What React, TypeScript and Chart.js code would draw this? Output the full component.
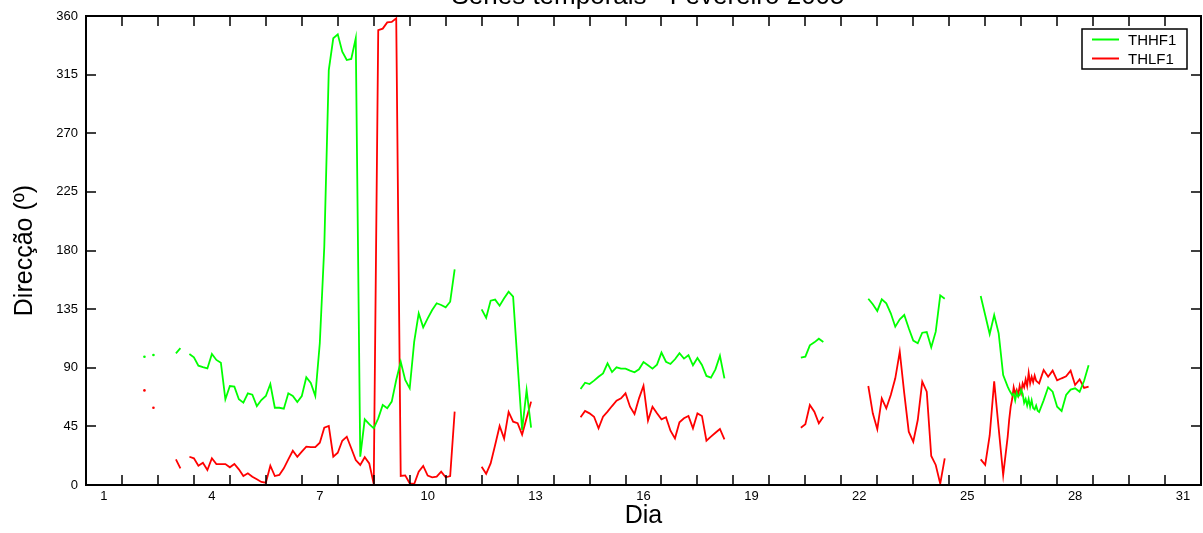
import React, { useEffect, useRef } from "react";
import { Chart, registerables } from "chart.js";

Chart.register(...registerables);

// ---------- DATA ----------
// 3-hourly samples: row = day d, columns d+0.000, d+0.125, ... d+0.875
const GRID_START = 2;
const GRID_STEP = 0.125;
// hourly samples between 26.125 and 27.0 (inclusive)
const HOURLY_START = 26.125;
const HOURLY_STEP = 1 / 24;
const HOURLY_END = 27.0;

const thhf1ThreeHourly: (number | null)[] = [
  /* 2 */ null, 98.5, null, 99.8, null, null, null, null,
  /* 3 */ 101, 105, null, 100.6, 98, 91.6, 90.5, 89.5,
  /* 4 */ 100.6, 96, 93.9, 65.8, 76, 75.5, 65.8, 63.2,
  /* 5 */ 70.4, 69.3, 60.6, 65.2, 68.3, 77.5, 59.3, 59.3,
  /* 6 */ 58.6, 70.4, 68.3, 63.7, 68.3, 82.7, 78.3, 68.3,
  /* 7 */ 108.8, 182.9, 318.5, 342.9, 345.9, 332.6, 326.2, 327,
  /* 8 */ 342.9, 21.7, 50.4, 46.8, 43.5, 51.2, 61.4, 58.9,
  /* 9 */ 64, 80.6, 94.6, 80.6, 74.2, 110, 131.8, 121,
  /* 10 */ 127.9, 134.3, 139.5, 138.2, 136.4, 140.7, 165.6, null,
  /* 11 */ null, null, null, null, 134.8, 128.4, 141.5, 142.3,
  /* 12 */ 137.6, 143.3, 148.4, 144.6, 93, 42.2, 72.9, 44,
  /* 13 */ null, null, null, null, null, null, null, null,
  /* 14 */ null, null, 73.7, 78.5, 77.5, 80.1, 83.1, 85.7,
  /* 15 */ 93.4, 86.7, 90.3, 89.3, 89.3, 87.8, 86.5, 88.8,
  /* 16 */ 94.4, 91.9, 89.3, 92.4, 101.6, 94.6, 92.9, 96.5,
  /* 17 */ 101.1, 97, 99.6, 91.9, 97.5, 92.1, 83.7, 82.4,
  /* 18 */ 88.8, 99.2, 81.9, null, null, null, null, null,
  /* 19 */ null, null, null, null, null, null, null, null,
  /* 20 */ null, null, null, 97.7, 98.5, 107.2, 109.5, 112.3,
  /* 21 */ 109.8, null, null, null, null, null, null, null,
  /* 22 */ null, null, 143, 138.7, 133.6, 142.5, 139.5, 131.8,
  /* 23 */ 121.5, 127.2, 130.5, 120.3, 110.8, 108.8, 116.9, 117.4,
  /* 24 */ 105.7, 117.7, 145.6, 143, null, null, null, null,
  /* 25 */ null, null, null, 145.1, 130.5, 115.9, 130.5, 116.4,
  /* 26 */ 84.4, null, null, null, null, null, null, null,
  /* 27 */ null, 65, 75, 71.6, 60.1, 56.8, 69.1, 73.2,
  /* 28 */ 74.2, 71.6, 80, 92, null, null, null, null,
];

const thlf1ThreeHourly: (number | null)[] = [
  /* 2 */ null, 72.6, null, 59.3, null, null, null, null,
  /* 3 */ 19.7, 12.8, null, 21.7, 20.5, 14.8, 17.1, 11.5,
  /* 4 */ 20.5, 16.1, 16.1, 16.1, 13.6, 16.1, 12, 6.9,
  /* 5 */ 9, 6.4, 4.4, 2.3, 1.8, 14.8, 6.9, 7.7,
  /* 6 */ 12.8, 19.7, 26.3, 21.7, 25.6, 29.4, 29, 29,
  /* 7 */ 32.5, 44, 45.3, 21.7, 24.8, 34, 37.1, 28.2,
  /* 8 */ 19.2, 15.4, 21.3, 16.6, 0.8, 349.2, 350.3, 355.1,
  /* 9 */ 355.4, 358.2, 6.9, 7.4, 1.3, 0.8, 10.2, 14.6,
  /* 10 */ 7.2, 5.9, 6.4, 10.2, 5.9, 6.9, 56.3, null,
  /* 11 */ null, null, null, null, 14, 8.6, 16.6, 30.7,
  /* 12 */ 45.3, 35.6, 56.1, 48.6, 47.4, 38.7, 51.5, 64,
  /* 13 */ null, null, null, null, null, null, null, null,
  /* 14 */ null, null, 52, 56.8, 55, 52.4, 43.5, 52.4,
  /* 15 */ 56.3, 60.6, 64.7, 66.5, 70.4, 60.1, 54.5, 66.5,
  /* 16 */ 76.2, 49.4, 60.1, 55, 50.4, 52, 41.7, 35.8,
  /* 17 */ 48.1, 51.2, 53, 43.5, 55, 53, 34, 37.1,
  /* 18 */ 40.1, 43, 35.1, null, null, null, null, null,
  /* 19 */ null, null, null, null, null, null, null, null,
  /* 20 */ null, null, null, 44, 46.6, 61.4, 56.3, 47.4,
  /* 21 */ 52.4, null, null, null, null, null, null, null,
  /* 22 */ null, null, 76, 55, 42.8, 66.5, 58.9, 69.1,
  /* 23 */ 81.9, 102.3, 70.4, 40.9, 33.2, 49.9, 79.3, 71.6,
  /* 24 */ 22.3, 15.4, 1, 20.5, null, null, null, null,
  /* 25 */ null, null, null, 19.7, 15.4, 38, 79.5, 43.5,
  /* 26 */ 7.7, null, null, null, null, null, null, null,
  /* 27 */ null, 88.3, 83.1, 87.8, 80.3, 81.9, 83.4, 87.8,
  /* 28 */ 76.8, 81.1, 74.5, 75.5, null, null, null, null,
];

// hourly, 26.125 .. 27.000
const thhf1Hourly: number[] = [
  75.5, 73, 71, 69, 70, 65, 71, 68, 69, 73, 70, 63,
  66, 61, 66, 60, 65, 59, 58, 61, 57, 56,
];
const thlf1Hourly: number[] = [
  37, 50, 60, 66, 75, 70, 73, 69, 76, 71, 78, 75,
  81, 76, 86, 78, 83, 79, 84, 80, 79, 78,
];

const seriesNames = ["THHF1", "THLF1"];
const xTickLabels = [1, 4, 7, 10, 13, 16, 19, 22, 25, 28, 31];
const yTickValues = [0, 45, 90, 135, 180, 225, 270, 315, 360];
const chartTitle = "Séries temporais - Fevereiro 2005";
const xTitle = "Dia";
const yTitle = "Direcção (º)";

// ---------- STYLE ----------
const COLORS = ["#00ff00", "#ff0000"];
const FONT = "'Liberation Sans', Arial, Helvetica, sans-serif";

type Pt = { x: number; y: number | null };

function buildSeries(grid: (number | null)[], hourly: number[]): Pt[] {
  const pts: Pt[] = [];
  grid.forEach((v, i) => {
    const x = GRID_START + i * GRID_STEP;
    if (x >= HOURLY_START - 1e-9 && x <= HOURLY_END + 1e-9) return;
    pts.push({ x, y: v });
  });
  hourly.forEach((v, i) => pts.push({ x: HOURLY_START + i * HOURLY_STEP, y: v }));
  pts.sort((a, b) => a.x - b.x);
  return pts;
}

const isolatedRadius = (ctx: any) => {
  const d = ctx.dataset.data as Pt[];
  const i = ctx.dataIndex;
  if (!d[i] || d[i].y == null) return 0;
  const prev = i > 0 ? d[i - 1].y : null;
  const next = i < d.length - 1 ? d[i + 1].y : null;
  return prev == null && next == null ? 1.3 : 0;
};

const decorPlugin = {
  id: "decor",
  afterDatasetsDraw(chart: any) {
    const { ctx, chartArea: a, scales } = chart;
    const xs = scales.x;
    const ys = scales.y;
    ctx.save();
    // tick marks (inward) on all sides
    ctx.strokeStyle = "#000";
    ctx.lineWidth = 1.5;
    ctx.beginPath();
    for (let d = xs.min + 1; d < xs.max; d += 1) {
      const px = Math.round(xs.getPixelForValue(d));
      ctx.moveTo(px, a.bottom);
      ctx.lineTo(px, a.bottom - 10);
      ctx.moveTo(px, a.top);
      ctx.lineTo(px, a.top + 10);
    }
    yTickValues.forEach((v) => {
      if (v === ys.min || v === ys.max) return;
      const py = Math.round(ys.getPixelForValue(v));
      ctx.moveTo(a.left, py);
      ctx.lineTo(a.left + 10, py);
      ctx.moveTo(a.right, py);
      ctx.lineTo(a.right - 10, py);
    });
    ctx.stroke();
    // frame
    ctx.lineWidth = 2;
    ctx.strokeRect(a.left, a.top, a.right - a.left, a.bottom - a.top);

    // legend
    const lx = 1082, ly = 29, lw = 105, lh = 40;
    ctx.fillStyle = "#fff";
    ctx.fillRect(lx, ly, lw, lh);
    ctx.lineWidth = 1.5;
    ctx.strokeStyle = "#000";
    ctx.strokeRect(lx, ly, lw, lh);
    ctx.font = `15px ${FONT}`;
    ctx.textBaseline = "middle";
    ctx.textAlign = "left";
    seriesNames.forEach((name, i) => {
      const yy = ly + 10.5 + i * 19;
      ctx.strokeStyle = COLORS[i];
      ctx.lineWidth = 2;
      ctx.beginPath();
      ctx.moveTo(lx + 10, yy);
      ctx.lineTo(lx + 37, yy);
      ctx.stroke();
      ctx.fillStyle = "#000";
      ctx.fillText(name, lx + 46, yy + 1);
    });

    // titles
    ctx.fillStyle = "#000";
    ctx.font = `26px ${FONT}`;
    ctx.textAlign = "center";
    ctx.textBaseline = "alphabetic";
    ctx.fillText(chartTitle, 648, 4);

    ctx.font = `25px ${FONT}`;
    ctx.textBaseline = "middle";
    ctx.fillText(xTitle, (a.left + a.right) / 2, 516);

    ctx.translate(25, (a.top + a.bottom) / 2);
    ctx.rotate(-Math.PI / 2);
    ctx.fillText(yTitle, 0, 0);
    ctx.restore();
  },
};

export default function App() {
  const canvasRef = useRef<HTMLCanvasElement | null>(null);

  useEffect(() => {
    document.body.style.margin = "0";
    const canvas = canvasRef.current;
    if (!canvas) return;
    const chart = new Chart(canvas, {
      type: "line",
      data: {
        datasets: [
          {
            label: seriesNames[0],
            data: buildSeries(thhf1ThreeHourly, thhf1Hourly) as any,
            borderColor: COLORS[0],
            backgroundColor: COLORS[0],
            borderWidth: 1.8,
            pointRadius: isolatedRadius,
            pointBorderWidth: 0,
            pointHoverRadius: 0,
            spanGaps: false,
            tension: 0,
          },
          {
            label: seriesNames[1],
            data: buildSeries(thlf1ThreeHourly, thlf1Hourly) as any,
            borderColor: COLORS[1],
            backgroundColor: COLORS[1],
            borderWidth: 1.8,
            pointRadius: isolatedRadius,
            pointBorderWidth: 0,
            pointHoverRadius: 0,
            spanGaps: false,
            tension: 0,
          },
        ],
      },
      options: {
        animation: false,
        responsive: false,
        maintainAspectRatio: false,
        events: [],
        layout: { padding: { top: 16, right: 2, left: 0, bottom: 0 } },
        plugins: {
          legend: { display: false },
          title: { display: false },
          tooltip: { enabled: false },
        },
        scales: {
          x: {
            type: "linear",
            min: 0.5,
            max: 31.5,
            grid: { display: false, drawTicks: false },
            border: { display: false },
            afterBuildTicks: (scale: any) => {
              scale.ticks = xTickLabels.map((v) => ({ value: v }));
            },
            afterFit: (scale: any) => {
              scale.height = 48;
            },
            ticks: {
              padding: 4,
              color: "#000",
              font: { family: FONT, size: 13 },
              maxRotation: 0,
              autoSkip: false,
            },
          },
          y: {
            type: "linear",
            min: 0,
            max: 360,
            grid: { display: false, drawTicks: false },
            border: { display: false },
            afterBuildTicks: (scale: any) => {
              scale.ticks = yTickValues.map((v) => ({ value: v }));
            },
            afterFit: (scale: any) => {
              scale.width = 86;
            },
            ticks: {
              padding: 8,
              color: "#000",
              font: { family: FONT, size: 13 },
            },
          },
        },
      },
      plugins: [decorPlugin],
    });
    return () => chart.destroy();
  }, []);

  return (
    <div style={{ width: 1203, height: 533, position: "relative", background: "#fff" }}>
      <canvas ref={canvasRef} width={1203} height={533} style={{ display: "block" }} />
    </div>
  );
}
